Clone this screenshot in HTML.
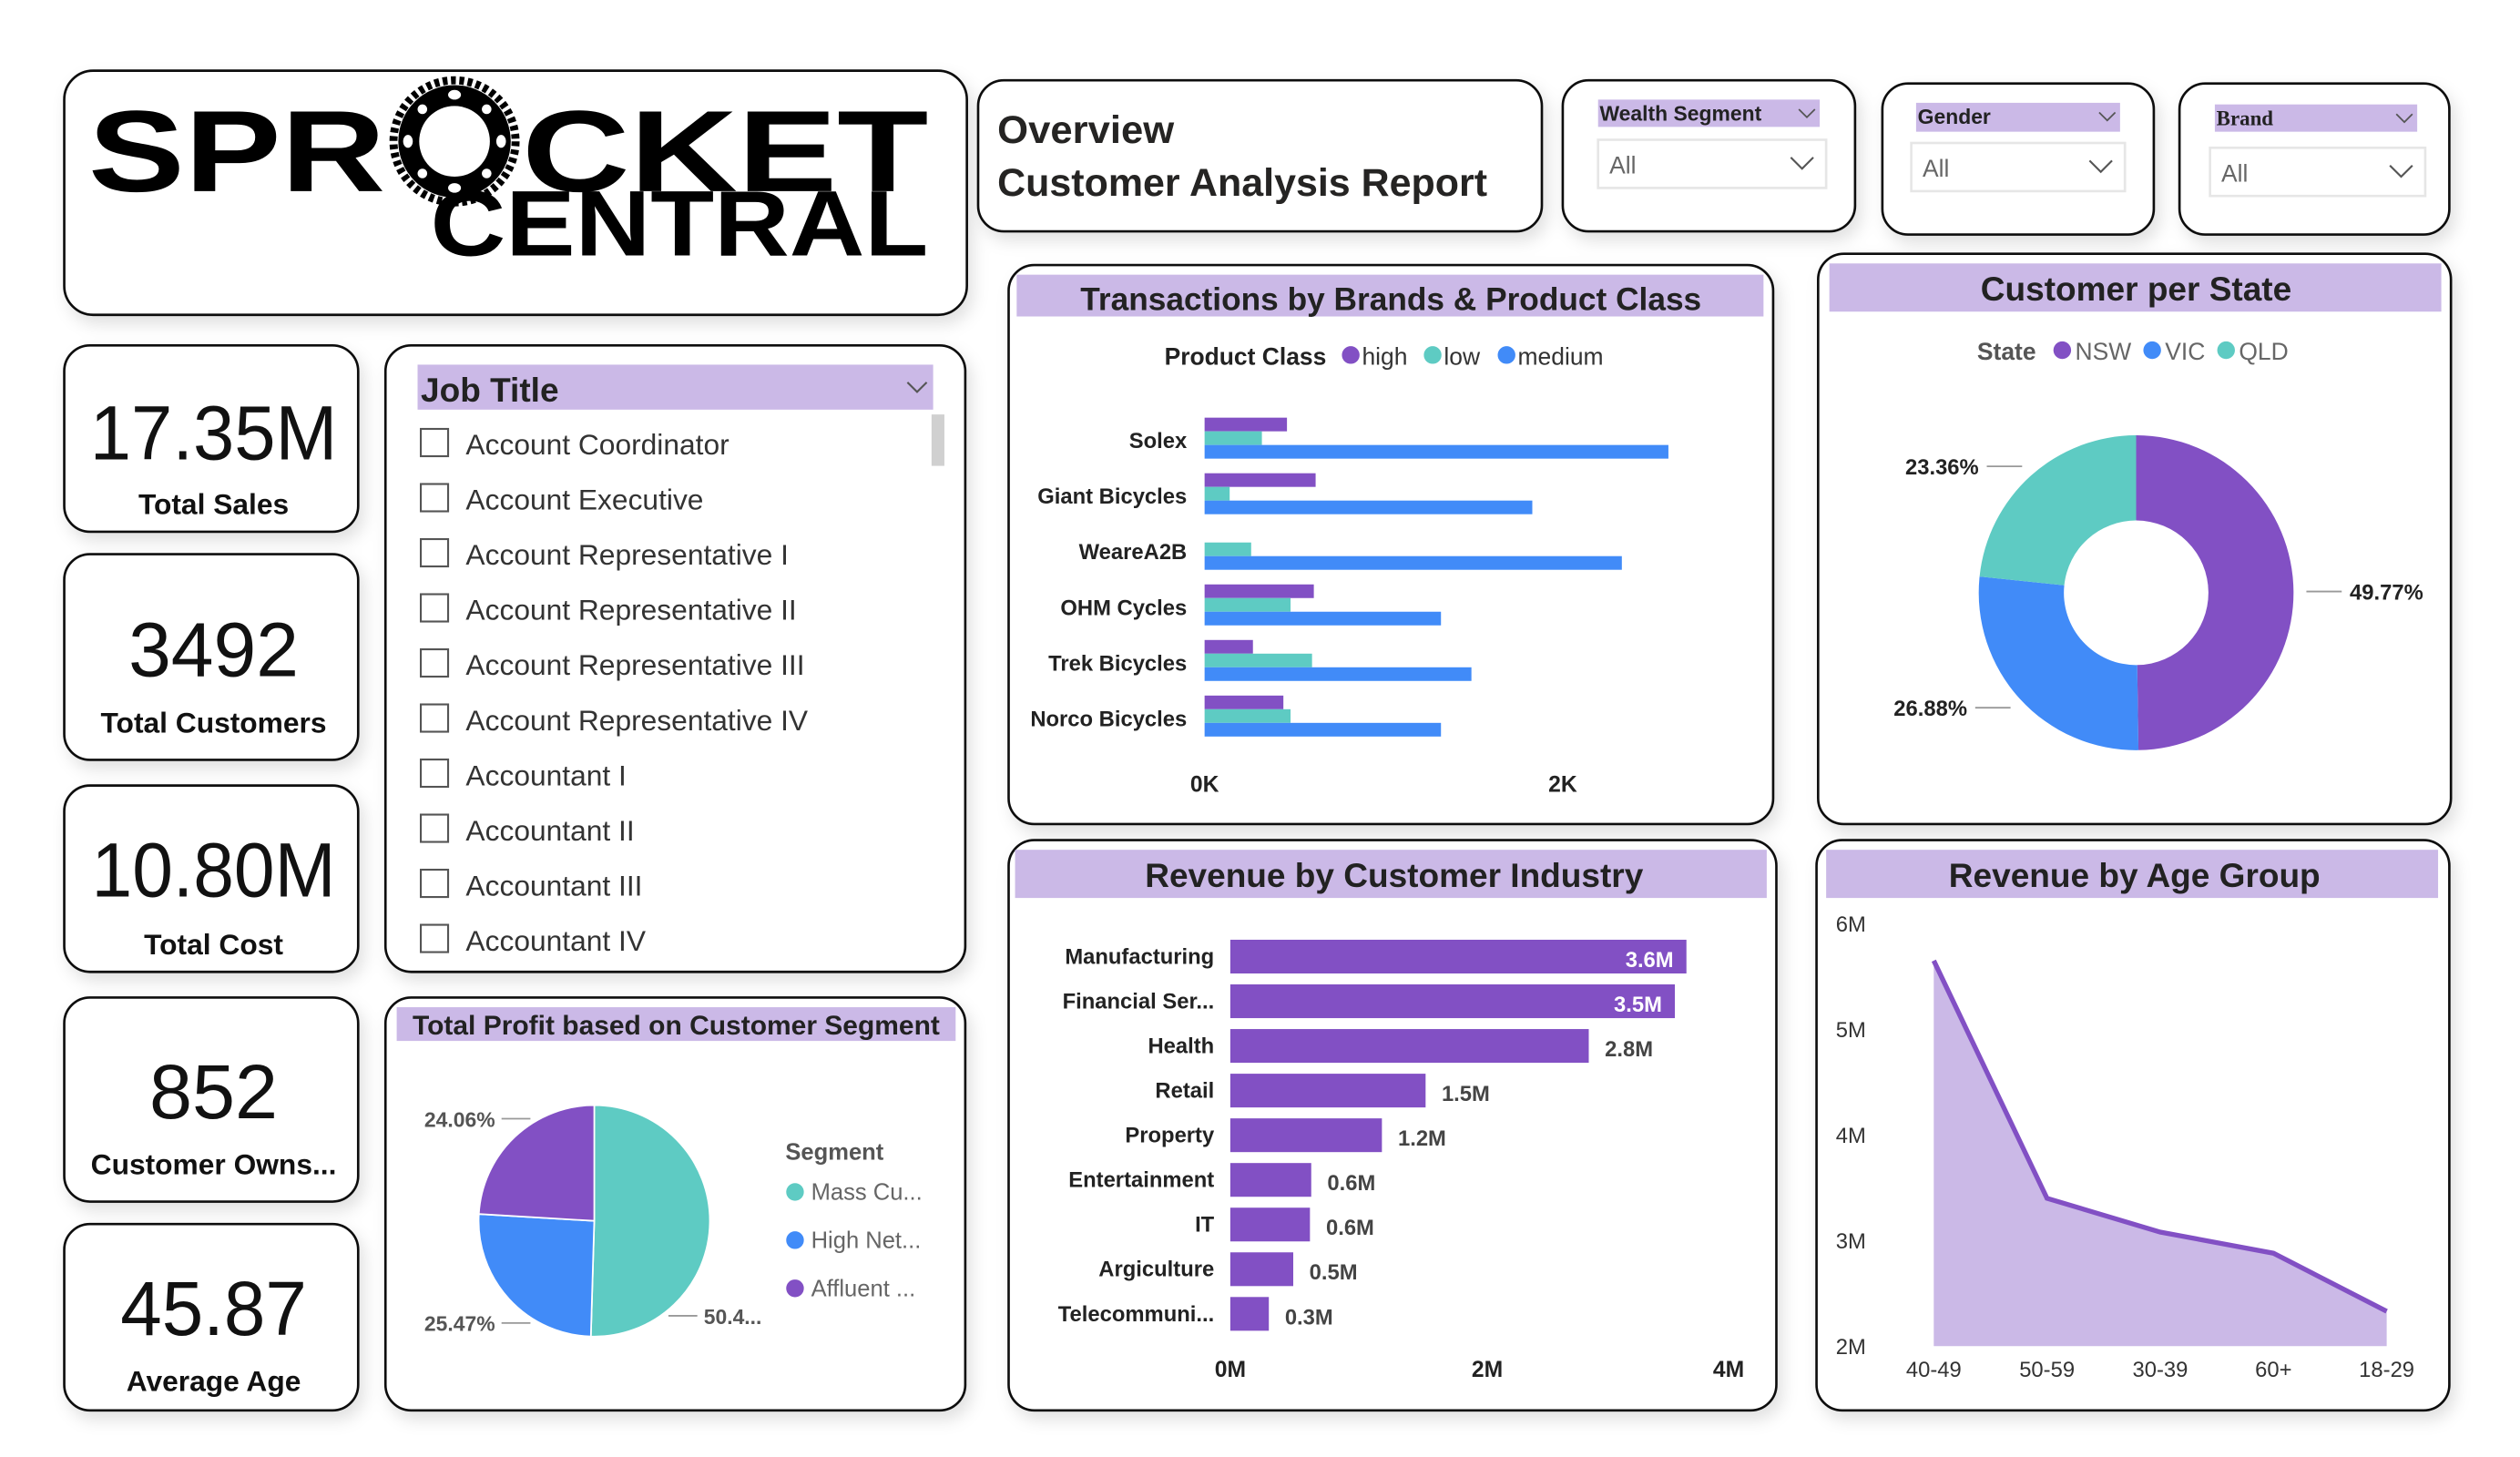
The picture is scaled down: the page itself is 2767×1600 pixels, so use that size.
<!DOCTYPE html>
<html><head><meta charset="utf-8">
<style>
html,body{margin:0;padding:0;background:#fff;overflow:hidden}
svg{display:block;font-family:"Liberation Sans","DejaVu Sans",sans-serif}
</style></head>
<body>
<svg id="root" width="2767" height="1600" viewBox="0 0 1569 907" preserveAspectRatio="none" xmlns="http://www.w3.org/2000/svg">
<defs>
<filter id="sh" x="-10%" y="-10%" width="130%" height="130%"><feDropShadow dx="3" dy="5" stdDeviation="5" flood-color="#000" flood-opacity="0.12"/></filter>
</defs>
<rect width="1569" height="907" fill="#fff"/>
<g id="panels" fill="#fff" stroke="#111" stroke-width="1.5" filter="url(#sh)">
<rect x="40" y="44" width="562" height="152" rx="18"/>
<rect x="609" y="50" width="351" height="94" rx="16"/>
<rect x="973" y="50" width="182" height="94" rx="16"/>
<rect x="1172" y="52" width="169" height="94" rx="16"/>
<rect x="1357" y="52" width="168" height="94" rx="16"/>
<rect x="40" y="215" width="183" height="116" rx="16"/>
<rect x="40" y="345" width="183" height="128" rx="16"/>
<rect x="40" y="489" width="183" height="116" rx="16"/>
<rect x="40" y="621" width="183" height="127" rx="16"/>
<rect x="40" y="762" width="183" height="116" rx="16"/>
<rect x="240" y="215" width="361" height="390" rx="16"/>
<rect x="240" y="621" width="361" height="257" rx="16"/>
<rect x="628" y="165" width="476" height="348" rx="16"/>
<rect x="1132" y="158" width="394" height="355" rx="16"/>
<rect x="628" y="523" width="478" height="355" rx="16"/>
<rect x="1131" y="523" width="394" height="355" rx="16"/>
</g>

<!-- Logo -->
<g font-weight="bold" fill="#000">
<text x="55" y="119" font-size="72" textLength="185" lengthAdjust="spacingAndGlyphs">SPR</text>
<text x="325" y="119" font-size="72" textLength="253" lengthAdjust="spacingAndGlyphs">CKET</text>
<text x="268" y="159" font-size="58" textLength="310" lengthAdjust="spacingAndGlyphs">CENTRAL</text>
<g>
<circle cx="283" cy="88" r="38" fill="none" stroke="#000" stroke-width="5" stroke-dasharray="3 2.2"/>
<circle cx="283" cy="88" r="35" fill="#000"/>
<circle cx="283" cy="88" r="22" fill="#fff"/>
<g fill="#fff">
<ellipse cx="283" cy="59" rx="4" ry="3"/><ellipse cx="283" cy="117" rx="4" ry="3"/>
<ellipse cx="254" cy="88" rx="3" ry="4"/><ellipse cx="312" cy="88" rx="3" ry="4"/>
<ellipse cx="263" cy="68" rx="3" ry="3"/><ellipse cx="303" cy="68" rx="3" ry="3"/>
<ellipse cx="263" cy="108" rx="3" ry="3"/><ellipse cx="303" cy="108" rx="3" ry="3"/>
</g></g>
</g>

<!-- Title -->
<g font-weight="bold" fill="#252423" font-size="24">
<text x="621" y="89" textLength="110" lengthAdjust="spacingAndGlyphs">Overview</text>
<text x="621" y="122" textLength="305" lengthAdjust="spacingAndGlyphs">Customer Analysis Report</text>
</g>

<g id="slicers"></g>
<g id="kpis" text-anchor="middle" fill="#111"></g>
<g id="job"></g>
<g id="titles"></g>
<g id="trans"></g>
<g id="state"></g>
<g id="industry"></g>
<g id="age"></g>
<g id="profit"></g>
</svg>
<script>
// ---- data ----
const brandCats=["Solex","Giant Bicycles","WeareA2B","OHM Cycles","Trek Bicycles","Norco Bicycles"];
const highVals=[0.46,0.62,0,0.61,0.27,0.44];
const lowVals=[0.32,0.14,0.26,0.48,0.60,0.48];
const mediumVals=[2.59,1.83,2.33,1.32,1.49,1.32];
const transTicks=[0,2];
const transTickLabels=["0K","2K"];

const stateNames=["NSW","VIC","QLD"];
const stateVals=[49.77,26.88,23.36];

const industryCats=["Manufacturing","Financial Ser...","Health","Retail","Property","Entertainment","IT","Argiculture","Telecommuni..."];
const industryVals=[3.55,3.46,2.79,1.52,1.18,0.63,0.62,0.49,0.30];
const industryLabels=["3.6M","3.5M","2.8M","1.5M","1.2M","0.6M","0.6M","0.5M","0.3M"];
const industryTicks=[0,2,4];
const industryTickLabels=["0M","2M","4M"];

const ageCats=["40-49","50-59","30-39","60+","18-29"];
const ageVals=[5.65,3.40,3.08,2.88,2.33];
const ageTicks=[2,3,4,5,6];
const ageTickLabels=["2M","3M","4M","5M","6M"];

const segNames=["Mass Cu...","High Net...","Affluent ..."];
const segVals=[50.47,25.47,24.06];
const segLabels=["50.4...","25.47%","24.06%"];

const jobTitles=["Account Coordinator","Account Executive","Account Representative I","Account Representative II","Account Representative III","Account Representative IV","Accountant I","Accountant II","Accountant III","Accountant IV"];

const kpiVals=["17.35M","3492","10.80M","852","45.87"];
const kpiLabels=["Total Sales","Total Customers","Total Cost","Customer Owns...","Average Age"];

const PURPLE="#8250c4",TEAL="#5ecbc3",BLUE="#418bf8",HDR="#cbb9e7";
const NS="http://www.w3.org/2000/svg";
function mk(parent,tag,attrs,text){const e=document.createElementNS(NS,tag);for(const k in attrs)e.setAttribute(k,attrs[k]);if(text!==undefined)e.textContent=text;parent.appendChild(e);return e;}
const $=id=>document.getElementById(id);

// ---- slicers ----
(function(){
 const g=$("slicers");
 const sl=[["Wealth Segment",995,62,138,17,995,87,142,30,"Liberation Sans"],["Gender",1193,64,127,18,1190,89,133,30,"Liberation Sans"],["Brand",1379,65,126,17,1376,92,134,30,"Liberation Serif"]];
 sl.forEach(s=>{
  const h=mk(g,"rect",{x:s[1],y:s[2],width:s[3],height:s[4],fill:HDR});
  
  
  mk(g,"text",{x:s[1]+1,y:s[2]+13,"font-size":13,"font-weight":"bold",fill:"#222","font-family":s[9]},s[0]);
  mk(g,"path",{d:`M${s[1]+s[3]-13} ${s[2]+6} l5 5 l5 -5`,fill:"none",stroke:"#555","stroke-width":1});
  const b=mk(g,"rect",{x:s[5],y:s[6],width:s[7],height:s[8],fill:"#fff",stroke:"#e6e6e6","stroke-width":1.5});
  
  
  mk(g,"text",{x:s[5]+7,y:s[6]+21,"font-size":15,fill:"#666"},"All");
  mk(g,"path",{d:`M${s[5]+s[7]-22} ${s[6]+11} l7 7 l7 -7`,fill:"none",stroke:"#555","stroke-width":1.2});
 });
})();

// ---- KPIs ----
(function(){
 const g=$("kpis");const ys=[[286,320],[421,456],[558,594],[696,731],[831,866]];
 const widths=[154,106,152,80,116];
 kpiVals.forEach((v,i)=>{
  const t=mk(g,"text",{x:133,y:ys[i][0],"font-size":48,textLength:widths[i],lengthAdjust:"spacingAndGlyphs"},v);
  
  
  const l=mk(g,"text",{x:133,y:ys[i][1],"font-size":18,"font-weight":"bold"},kpiLabels[i]);
  
  
 });
})();

// ---- Job title slicer ----
(function(){
 const g=$("job");
 mk(g,"rect",{x:260,y:227,width:321,height:28,fill:HDR});
 mk(g,"text",{x:262,y:250,"font-size":21,"font-weight":"bold",fill:"#222"},"Job Title");
 mk(g,"path",{d:"M565 238 l6 6 l6 -6",fill:"none",stroke:"#555","stroke-width":1.2});
 mk(g,"rect",{x:580,y:258,width:8,height:32,fill:"#d0d0d0"});
 jobTitles.forEach((t,i)=>{
  const y=276+i*34.3;
  const cb=mk(g,"rect",{x:262,y:y-9,width:17,height:17,fill:"#fff",stroke:"#555","stroke-width":1.2});
  
  
  const tx=mk(g,"text",{x:290,y:y+7,"font-size":18,fill:"#333"},t);
  
  
 });
})();

// ---- chart titles ----
(function(){
 const g=$("titles");
 const T=[["Transactions by Brands & Product Class",633,171,465,26,866,193,20],["Customer per State",1139,164,381,30,1330,187,21],["Revenue by Customer Industry",632,529,468,30,868,552,21],["Revenue by Age Group",1137,529,381,30,1329,552,21],["Total Profit based on Customer Segment",247,627,348,21,421,644,17]];
 T.forEach(t=>{
  mk(g,"rect",{x:t[1],y:t[2],width:t[3],height:t[4],fill:HDR});
  const tx=mk(g,"text",{x:t[5],y:t[6],"font-size":t[7],"font-weight":"bold",fill:"#222","text-anchor":"middle"},t[0]);
  
  
 });
})();

// ---- Transactions chart ----
(function(){
 const g=$("trans");
 const x0=750,px=111.5; const X=v=>x0+v*px;
 const bh=8.5, top=260, step=34.6;
 mk(g,"text",{x:725,y:227,"font-size":15,"font-weight":"bold",fill:"#222"},"Product Class");
 [["high",PURPLE,841],["low",TEAL,892],["medium",BLUE,938]].forEach(l=>{
  const c=mk(g,"circle",{cx:l[2],cy:221,r:5.5,fill:l[1]});
  
  
  mk(g,"text",{x:l[2]+7,y:227,"font-size":15,fill:"#333"},l[0]);
 });
 brandCats.forEach((c,i)=>{
  const y=top+i*step;
  mk(g,"text",{x:739,y:y+19,"font-size":13.5,"font-weight":"bold","text-anchor":"end",fill:"#222"},c);
  [[highVals,PURPLE],[lowVals,TEAL],[mediumVals,BLUE]].forEach((s,j)=>{
   const v=s[0][i]; if(v<=0) return;
   const r=mk(g,"rect",{x:X(0),y:y+j*bh,width:X(v)-X(0),height:bh,fill:s[1]});
   
   
  });
 });
 transTicks.forEach((t,i)=>mk(g,"text",{x:X(t),y:493,"font-size":14,"font-weight":"bold","text-anchor":"middle",fill:"#222"},transTickLabels[i]));
})();

// ---- Customer per state donut ----
(function(){
 const g=$("state");
 mk(g,"text",{x:1231,y:224,"font-size":15,"font-weight":"bold",fill:"#555"},"State");
 const cols=[PURPLE,BLUE,TEAL];
 [[1284,0],[1340,1],[1386,2]].forEach(l=>{
  mk(g,"circle",{cx:l[0],cy:218,r:5.5,fill:cols[l[1]]});
  mk(g,"text",{x:l[0]+8,y:224,"font-size":15,fill:"#666"},stateNames[l[1]]);
 });
 const cx=1330,cy=369,R=98,r=45; const tot=stateVals.reduce((a,b)=>a+b,0);
 let a=-Math.PI/2;
 stateVals.forEach((v,i)=>{
  const b=a+v/tot*2*Math.PI; const lg=(b-a)>Math.PI?1:0;
  const p=(rr,t)=>[cx+rr*Math.cos(t),cy+rr*Math.sin(t)];
  const [x1,y1]=p(R,a),[x2,y2]=p(R,b),[x3,y3]=p(r,b),[x4,y4]=p(r,a);
  const s=mk(g,"path",{d:`M${x1} ${y1}A${R} ${R} 0 ${lg} 1 ${x2} ${y2}L${x3} ${y3}A${r} ${r} 0 ${lg} 0 ${x4} ${y4}Z`,fill:cols[i]});
  
  
  const m=(a+b)/2; const [lx,ly]=p(R+8,m);
  const right=Math.cos(m)>0;
  const ex=right?lx+22:lx-22;
  mk(g,"polyline",{points:`${lx},${ly} ${ex},${ly}`,fill:"none",stroke:"#999","stroke-width":1});
  mk(g,"text",{x:right?ex+5:ex-5,y:ly+5,"font-size":13.5,"font-weight":"bold","text-anchor":right?"start":"end",fill:"#222"},v.toFixed(2)+"%");
  a=b;
 });
})();

// ---- Revenue by industry ----
(function(){
 const g=$("industry");
 const x0=766,px=80; const X=v=>x0+v*px;
 const top=585,step=27.8,bh=21;
 industryCats.forEach((c,i)=>{
  const y=top+i*step;
  mk(g,"text",{x:756,y:y+15,"font-size":13.5,"font-weight":"bold","text-anchor":"end",fill:"#222"},c);
  const r=mk(g,"rect",{x:X(0),y:y,width:X(industryVals[i])-X(0),height:bh,fill:PURPLE});
  
  
  const inside=industryVals[i]>3;
  mk(g,"text",{x:inside?X(industryVals[i])-8:X(industryVals[i])+10,y:y+17,"font-size":13.5,"font-weight":"bold","text-anchor":inside?"end":"start",fill:inside?"#fff":"#444"},industryLabels[i]);
 });
 industryTicks.forEach((t,i)=>mk(g,"text",{x:X(t),y:857,"font-size":14,"font-weight":"bold","text-anchor":i==2?"end":"middle",fill:"#222"},industryTickLabels[i]));
})();

// ---- Revenue by age ----
(function(){
 const g=$("age");
 const Y=v=>838-(v-2)*65.75; const X=i=>1204+i*70.5;
 ageTicks.forEach((t,i)=>mk(g,"text",{x:1143,y:Y(t)+5,"font-size":13.5,fill:"#333"},ageTickLabels[i]));
 let pts=ageVals.map((v,i)=>X(i)+","+Y(v)).join(" ");
 const ar=mk(g,"polygon",{points:`${X(0)},${Y(2)} ${pts} ${X(ageVals.length-1)},${Y(2)}`,fill:"#cbb9e7"});
 
 
 const ln=mk(g,"polyline",{points:pts,fill:"none",stroke:PURPLE,"stroke-width":3});
 
 
 ageCats.forEach((c,i)=>mk(g,"text",{x:X(i),y:857,"font-size":13.5,"text-anchor":"middle",fill:"#333"},c));
})();

// ---- Profit pie ----
(function(){
 const g=$("profit");
 const cx=370,cy=760,R=72; const cols=[TEAL,BLUE,PURPLE];
 const labelAng=[52,122,238];
 const tot=segVals.reduce((a,b)=>a+b,0); let a=-Math.PI/2;
 segVals.forEach((v,i)=>{
  const b=a+v/tot*2*Math.PI; const lg=(b-a)>Math.PI?1:0;
  const p=(rr,t)=>[cx+rr*Math.cos(t),cy+rr*Math.sin(t)];
  const [x1,y1]=p(R,a),[x2,y2]=p(R,b);
  const s=mk(g,"path",{d:`M${cx} ${cy}L${x1} ${y1}A${R} ${R} 0 ${lg} 1 ${x2} ${y2}Z`,fill:cols[i],stroke:"#fff","stroke-width":1});
  
  
  const m=labelAng[i]*Math.PI/180; const [lx,ly]=p(R+3,m); const right=Math.cos(m)>0;
  const ex=right?lx+18:lx-18;
  mk(g,"polyline",{points:`${lx},${ly} ${ex},${ly}`,fill:"none",stroke:"#999","stroke-width":1});
  mk(g,"text",{x:right?ex+4:ex-4,y:ly+5,"font-size":13,"font-weight":"bold","text-anchor":right?"start":"end",fill:"#555"},segLabels[i]);
  a=b;
 });
 mk(g,"text",{x:489,y:722,"font-size":14.5,"font-weight":"bold",fill:"#555"},"Segment");
 segNames.forEach((n,i)=>{
  mk(g,"circle",{cx:495,cy:742+i*30,r:5.5,fill:cols[i]});
  const t=mk(g,"text",{x:505,y:747+i*30,"font-size":14.5,fill:"#666"},n);
  
  
 });
})();
</script>
</body></html>
